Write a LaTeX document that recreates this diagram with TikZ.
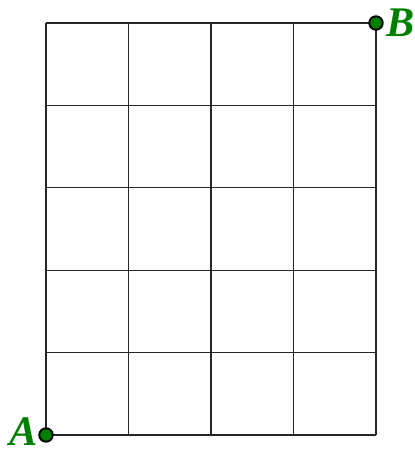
\documentclass[tikz,border=0pt]{standalone}
\usepackage{fontspec}
\setmainfont{Liberation Serif}
\definecolor{ptgreen}{RGB}{0,128,0}
\newlength{\pxu}
\setlength{\pxu}{0.02cm}
\tikzset{
  gridline/.style={draw=black!85, line width=0.6pt},
  ptdot/.style={circle, fill=ptgreen, draw=black, line width=1.1pt, inner sep=0pt, minimum size=13.5\pxu},
  ptlabel/.style={text=ptgreen, font=\fontsize{24}{24}\selectfont\bfseries\itshape, inner sep=0pt}
}
\begin{document}
\begin{tikzpicture}[x=0.02cm, y=-0.02cm]
\useasboundingbox (0,0) rectangle (414,450);
\foreach \xx in {46,128.5,211,293.5,376} {
  \draw[gridline] (\xx,23) -- (\xx,435);
}
\foreach \yy in {23,105.4,187.8,270.2,352.6,435} {
  \draw[gridline] (46,\yy) -- (376,\yy);
}
\node[ptdot] (A) at (46,435) {};
\node[ptdot] (B) at (376,23) {};
\node[ptlabel] (la) at (23.5,432) {A};
\node[ptlabel] (lb) at (400.5,22.5) {B};
\end{tikzpicture}
\end{document}
